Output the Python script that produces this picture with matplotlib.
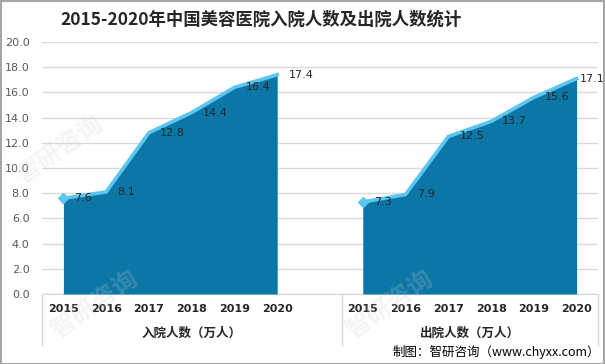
import matplotlib
matplotlib.use("Agg")
import matplotlib.pyplot as plt
from matplotlib.lines import Line2D
from matplotlib.patches import Rectangle

plt.rcParams['font.family'] = ['Noto Sans CJK SC', 'DejaVu Sans']

title = "2015-2020年中国美容医院入院人数及出院人数统计"
years = ["2015", "2016", "2017", "2018", "2019", "2020"]
groups = ["入院人数（万人）", "出院人数（万人）"]
admitted = [7.6, 8.1, 12.8, 14.4, 16.4, 17.4]
discharged = [7.3, 7.9, 12.5, 13.7, 15.6, 17.1]
source = "制图：智研咨询（www.chyxx.com）"

W, H = 605, 364
fig = plt.figure(figsize=(W / 100, H / 100), dpi=100)

# axes placement (pixel-based)
L, R, T, B = 42, 598, 42, 294
ax = fig.add_axes([L / W, (H - B) / H, (R - L) / W, (B - T) / H])

area_c = "#0c77a6"
line_c = "#5cc6f0"

series = [admitted, discharged]
starts = [0, 7]
for k, (s, vals) in enumerate(zip(starts, series)):
    xs = list(range(s, s + len(vals)))
    ax.fill_between(xs, 0, vals, color=area_c, lw=0, zorder=2)
    ax.plot(xs, vals, color=line_c, lw=2.6, marker="D", markersize=5,
            markevery=[0], solid_joinstyle="miter", zorder=3)
    for i, (x, v) in enumerate(zip(xs, vals)):
        dx = 8
        if k == 1 and i == len(vals) - 1:
            dx = 2
        ax.annotate(f"{v:.1f}", (x, v), xytext=(dx, 0), textcoords="offset points",
                    ha="left", va="center", fontsize=8, color="#262626",
                    family=["DejaVu Sans"], zorder=4, annotation_clip=False)

ax.set_xlim(-0.5, 12.5)
ax.set_ylim(0, 20)
ax.set_yticks([i * 2 for i in range(11)])
ax.set_yticklabels([f"{i * 2:.1f}" for i in range(11)], fontsize=8, color="#595959",
                   family=["DejaVu Sans"])
ax.yaxis.grid(True, color="#d9d9d9", lw=1)
ax.set_axisbelow(True)
ax.tick_params(axis="y", length=0, pad=9)
ax.set_xticks([])
for sp in ["left", "right", "top"]:
    ax.spines[sp].set_visible(False)
ax.spines["bottom"].set_color("#d9d9d9")
ax.spines["bottom"].set_zorder(1)

def fx(px):
    return px / W

def fy(py):
    return 1 - py / H

# year labels
for s in starts:
    for i, y in enumerate(years):
        ax.text(s + i, -15 / (B - T), y, transform=ax.get_xaxis_transform(), ha="center",
                va="center", fontsize=8, fontweight="bold", color="#262626",
                family=["DejaVu Sans"])

# group labels
fig.text(fx(192), fy(333), groups[0], ha="center", va="center", fontsize=9,
         fontweight="bold", color="#262626")
fig.text(fx(470), fy(333), groups[1], ha="center", va="center", fontsize=9,
         fontweight="bold", color="#262626")

# separators
for px in [L, 342, R]:
    fig.add_artist(Line2D([fx(px), fx(px)], [fy(B), fy(345)], color="#d9d9d9", lw=1))

# title
fig.text(fx(261), fy(20), title, ha="center", va="center", fontsize=12.5,
         fontweight="bold", color="#262626")

# source
fig.text(fx(600), fy(352), source, ha="right", va="center", fontsize=9, color="#000000")

# watermark
wm_kw = dict(ha="center", va="center", rotation=35, color="#c8ccd4", alpha=0.22,
             fontweight="bold", zorder=0)
fig.text(fx(95), fy(305), "智研咨询", fontsize=18, **wm_kw)
fig.text(fx(390), fy(305), "智研咨询", fontsize=18, **wm_kw)
fig.text(fx(60), fy(150), "智研咨询", fontsize=18, **wm_kw)

# outer frame
fig.add_artist(Rectangle((0.5 / W, 0.5 / H), 1 - 1.5 / W, 1 - 1.5 / H,
                         transform=fig.transFigure, fill=False, ec="#a6a6a6", lw=1.5))

fig.savefig("out.png", dpi=100)
